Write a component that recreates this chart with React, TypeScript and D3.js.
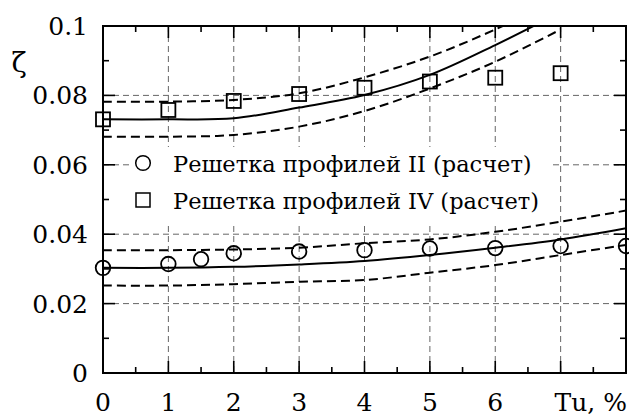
import React from "react";
import * as d3 from "d3";

// Turbulence intensity, %
const tuMarkersII = [0, 1, 1.5, 2, 3, 4, 5, 6, 7, 8];
const zetaMarkersII = [0.0303, 0.0314, 0.0328, 0.0345, 0.035, 0.0354, 0.0359, 0.036, 0.0366, 0.0366];

const tuMarkersIV = [0, 1, 2, 3, 4, 5, 6, 7];
const zetaMarkersIV = [0.0731, 0.0758, 0.0784, 0.0804, 0.0822, 0.084, 0.0851, 0.0864];

// Correlation curves (mean and ±band) for cascade II
const tuCurveII = [0, 1, 2, 3, 4, 5, 6, 7, 8];
const zetaMeanII = [0.0303, 0.0303, 0.0306, 0.0313, 0.0323, 0.034, 0.0361, 0.0385, 0.0417];
const zetaUpperII = [0.0354, 0.0354, 0.0356, 0.0361, 0.0374, 0.0385, 0.0407, 0.0436, 0.0468];
const zetaLowerII = [0.0252, 0.0252, 0.0256, 0.0263, 0.0268, 0.0289, 0.0311, 0.034, 0.0369];

// Correlation curves for cascade IV
const tuCurveIV = [0, 1, 2, 3, 4, 5, 6, 7];
const zetaMeanIV = [0.0731, 0.0731, 0.0734, 0.0765, 0.0801, 0.0859, 0.0945, 0.104];
const zetaUpperIV = [0.0782, 0.0782, 0.0787, 0.0806, 0.0852, 0.0912, 0.099, 0.108];
const zetaLowerIV = [0.0681, 0.0681, 0.0686, 0.071, 0.0755, 0.082, 0.0897, 0.099];

const xTickLabels = ["0", "1", "2", "3", "4", "5", "6"];
const yTickValues = [0, 0.02, 0.04, 0.06, 0.08, 0.1];
const legendLabels = ["Решетка профилей II (расчет)", "Решетка профилей IV (расчет)"];

const W = 629;
const H = 417;
const left = 103;
const right = 626;
const top = 26;
const bottom = 373;
const FONT = "'DejaVu Serif', serif";

export default function App() {
  const x = d3.scaleLinear().domain([0, 8]).range([left, right]);
  const y = d3.scaleLinear().domain([0, 0.1]).range([bottom, top]);

  const line = (xs: number[], ys: number[]) =>
    d3
      .line<number>()
      .x((_, i) => x(xs[i]))
      .y((d) => y(d))
      .curve(d3.curveCatmullRom.alpha(0.5))(ys) || "";

  const majorX = d3.range(0, 9, 1);
  const minorX = d3.range(0.5, 8, 1);
  const majorY = d3.range(0, 0.1001, 0.02);
  const minorY = d3.range(0.01, 0.1, 0.02);

  const curves = [
    { d: line(tuCurveII, zetaMeanII), dash: "" },
    { d: line(tuCurveII, zetaUpperII), dash: "9 5" },
    { d: line(tuCurveII, zetaLowerII), dash: "9 5" },
    { d: line(tuCurveIV, zetaMeanIV), dash: "" },
    { d: line(tuCurveIV, zetaUpperIV), dash: "9 5" },
    { d: line(tuCurveIV, zetaLowerIV), dash: "9 5" },
  ];

  const legendX = 143;
  const legendY = [163, 200];

  return (
    <svg
      width={W}
      height={H}
      style={{ position: "absolute", left: 0, top: 0, background: "#fff", fontFamily: FONT }}
    >
      <defs>
        <clipPath id="plot-clip">
          <rect x={left} y={top} width={right - left} height={bottom - top} />
        </clipPath>
      </defs>
      <rect x={0} y={0} width={W} height={H} fill="#fff" />

      {/* grid */}
      <g stroke="#555" strokeWidth={0.9} strokeDasharray="6 4" fill="none">
        {majorX.slice(1, 8).map((v) => (
          <line key={"gx" + v} x1={x(v)} x2={x(v)} y1={top} y2={bottom} />
        ))}
        {majorY.slice(1, 5).map((v) => (
          <line key={"gy" + v} x1={left} x2={right} y1={y(v)} y2={y(v)} />
        ))}
      </g>

      {/* legend background */}
      <rect x={133} y={147} width={420} height={78} fill="#fff" />

      {/* curves */}
      <g clipPath="url(#plot-clip)" fill="none" stroke="#000" strokeWidth={2}>
        {curves.map((c, i) => (
          <path key={i} d={c.d} strokeDasharray={c.dash || undefined} />
        ))}
      </g>

      {/* markers */}
      <g fill="none" stroke="#000" strokeWidth={1.8}>
        {tuMarkersII.map((t, i) => (
          <circle key={"c" + i} cx={x(t)} cy={y(zetaMarkersII[i])} r={7.3} />
        ))}
        {tuMarkersIV.map((t, i) => (
          <rect
            key={"s" + i}
            x={x(t) - 7}
            y={y(zetaMarkersIV[i]) - 7}
            width={14}
            height={14}
          />
        ))}
      </g>

      {/* ticks */}
      <g stroke="#000" strokeWidth={1.6}>
        {majorX.map((v) => (
          <g key={"tx" + v}>
            <line x1={x(v)} x2={x(v)} y1={bottom} y2={bottom - 12} />
            <line x1={x(v)} x2={x(v)} y1={top} y2={top + 12} />
          </g>
        ))}
        {minorX.map((v) => (
          <g key={"mx" + v}>
            <line x1={x(v)} x2={x(v)} y1={bottom} y2={bottom - 6} />
            <line x1={x(v)} x2={x(v)} y1={top} y2={top + 6} />
          </g>
        ))}
        {majorY.map((v) => (
          <g key={"ty" + v}>
            <line x1={left} x2={left + 12} y1={y(v)} y2={y(v)} />
            <line x1={right} x2={right - 12} y1={y(v)} y2={y(v)} />
          </g>
        ))}
        {minorY.map((v) => (
          <g key={"my" + v}>
            <line x1={left} x2={left + 6} y1={y(v)} y2={y(v)} />
            <line x1={right} x2={right - 6} y1={y(v)} y2={y(v)} />
          </g>
        ))}
      </g>

      {/* frame */}
      <rect
        x={left}
        y={top}
        width={right - left}
        height={bottom - top}
        fill="none"
        stroke="#000"
        strokeWidth={2}
      />

      {/* tick labels */}
      <g fontSize={25} fill="#000" fontFamily={FONT}>
        {xTickLabels.map((s, i) => (
          <text key={"lx" + i} x={x(i)} y={411} textAnchor="middle">
            {s}
          </text>
        ))}
        <text x={627} y={411} textAnchor="end">
          Tu, %
        </text>
        {yTickValues.map((v) => (
          <text key={"ly" + v} x={88} y={y(v) + 9} textAnchor="end">
            {v === 0 ? "0" : String(v)}
          </text>
        ))}
        <text x={19} y={72} textAnchor="middle" fontSize={28}>
          ζ
        </text>
      </g>

      {/* legend */}
      <g fontFamily={FONT}>
        <circle cx={legendX} cy={legendY[0]} r={7.3} fill="none" stroke="#000" strokeWidth={1.5} />
        <rect
          x={legendX - 7}
          y={legendY[1] - 7}
          width={14}
          height={14}
          fill="none"
          stroke="#000"
          strokeWidth={1.5}
        />
        {legendLabels.map((s, i) => (
          <text key={s} x={173} y={legendY[i] + 8.5} fontSize={22.5} fill="#000">
            {s}
          </text>
        ))}
      </g>
    </svg>
  );
}
